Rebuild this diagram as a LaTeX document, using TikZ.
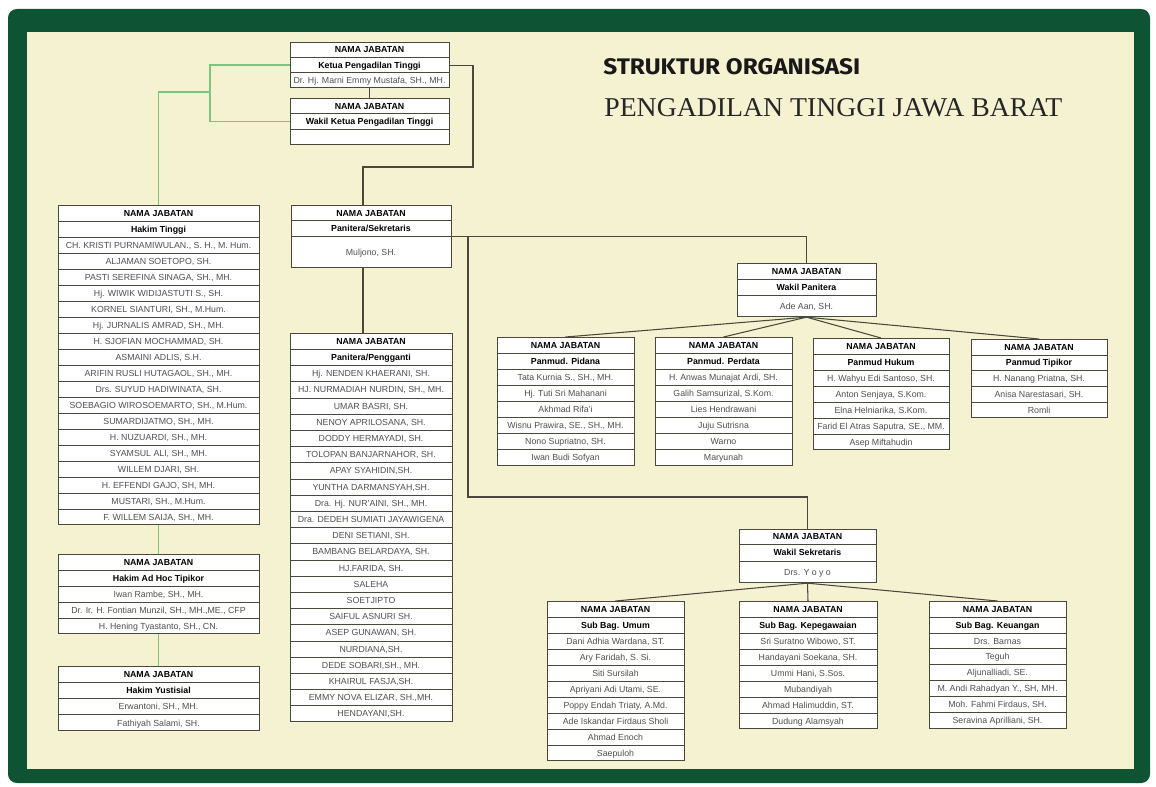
\documentclass[tikz,border=0pt]{standalone}
\usepackage{fontspec}
\setmainfont{Liberation Sans}
\newfontfamily\judulfont{Fira Sans}
\newfontfamily\serif{Liberation Serif}
\usepackage{graphicx}
\usepackage{colortbl}

\definecolor{hijau}{HTML}{0E5434}
\definecolor{krem}{HTML}{F5F2D2}
\definecolor{garishijau}{HTML}{7CC47F}
\definecolor{garis}{HTML}{4A473C}
\definecolor{nama}{HTML}{505050}

\newlength{\rh}
\renewcommand{\arraystretch}{0}
\setlength{\arrayrulewidth}{0.4pt}
\arrayrulecolor{garis}

\newcommand{\jtab}[2]{\begin{tabular}{@{}>{\centering\arraybackslash}p{#1}@{}}#2\end{tabular}}
\newcommand{\hd}[2][\rh]{\rule[\dimexpr1.8pt-#1/2\relax]{0pt}{#1}\textbf{#2}}
\newcommand{\nm}[2][\rh]{\rule[\dimexpr1.8pt-#1/2\relax]{0pt}{#1}\textcolor{nama}{#2}}

\begin{document}
\begin{tikzpicture}[x=0.02cm, y=-0.02cm,
    jbox/.style={draw=garis, fill=white, inner sep=0pt, line width=0.5pt, anchor=north, font=\fontsize{5}{6}\selectfont},
    hubung/.style={draw=garis, line width=0.6pt},
    hubunghijau/.style={draw=garishijau, line width=0.9pt}]

    \useasboundingbox (0,0) rectangle (1156,787);

    \fill[white] (0,0) rectangle (1156,787);

    \fill[hijau, rounded corners=5pt] (8,9) rectangle (1150,783);

    \fill[krem] (27,32) rectangle (1134,769);


    \node[anchor=south west, inner sep=0pt, text=black!90] (judul) at (603,75) {\resizebox{5.14cm}{0.32cm}{\judulfont\bfseries STRUKTUR ORGANISASI}};

    \node[anchor=south west, inner sep=0pt, text=black!85] (subjudul) at (604,117) {\resizebox{9.16cm}{0.36cm}{\serif PENGADILAN TINGGI JAWA BARAT}};


    \node[jbox] (ketua) at (369.5,42) {\setlength{\rh}{0.292cm}\jtab{3.18cm}{\hd{NAMA JABATAN}\\\hline \hd{Ketua Pengadilan Tinggi}\\\hline \nm{Dr. Hj. Marni Emmy Mustafa, SH., MH.}}};

    \node[jbox] (wakilketua) at (369.5,98) {\setlength{\rh}{0.300cm}\jtab{3.18cm}{\hd{NAMA JABATAN}\\\hline \hd{Wakil Ketua Pengadilan Tinggi}\\\hline \nm{}}};


    \node[jbox] (hakimtinggi) at (158.5,205) {\setlength{\rh}{0.306cm}\jtab{4.02cm}{\hd{NAMA JABATAN}\\\hline \hd{Hakim Tinggi}\\\hline
        \nm{CH. KRISTI PURNAMIWULAN., S. H., M. Hum.}\\\hline \nm{ALJAMAN SOETOPO, SH.}\\\hline
        \nm{PASTI SEREFINA SINAGA, SH., MH.}\\\hline \nm{Hj. WIWIK WIDIJASTUTI S., SH.}\\\hline
        \nm{KORNEL SIANTURI, SH., M.Hum.}\\\hline \nm{Hj. JURNALIS AMRAD, SH., MH.}\\\hline
        \nm{H. SJOFIAN MOCHAMMAD, SH.}\\\hline \nm{ASMAINI ADLIS, S.H.}\\\hline
        \nm{ARIFIN RUSLI HUTAGAOL, SH., MH.}\\\hline \nm{Drs. SUYUD HADIWINATA, SH.}\\\hline
        \nm{SOEBAGIO WIROSOEMARTO, SH., M.Hum.}\\\hline \nm{SUMARDIJATMO, SH., MH.}\\\hline
        \nm{H. NUZUARDI, SH., MH.}\\\hline \nm{SYAMSUL ALI, SH., MH.}\\\hline
        \nm{WILLEM DJARI, SH.}\\\hline \nm{H. EFFENDI GAJO, SH, MH.}\\\hline
        \nm{MUSTARI, SH., M.Hum.}\\\hline \nm{F. WILLEM SAIJA, SH., MH.}}};

    \node[jbox] (adhoc) at (158.5,554) {\setlength{\rh}{0.306cm}\jtab{4.02cm}{\hd{NAMA JABATAN}\\\hline \hd{Hakim Ad Hoc Tipikor}\\\hline
        \nm{Iwan Rambe, SH., MH.}\\\hline \nm{Dr. Ir. H. Fontian Munzil, SH., MH.,ME., CFP}\\\hline
        \nm{H. Hening Tyastanto, SH., CN.}}};

    \node[jbox] (yustisial) at (158.5,666) {\setlength{\rh}{0.311cm}\jtab{4.02cm}{\hd{NAMA JABATAN}\\\hline \hd{Hakim Yustisial}\\\hline
        \nm{Erwantoni, SH., MH.}\\\hline \nm{Fathiyah Salami, SH.}}};


    \node[jbox] (panitera) at (371,205) {\jtab{3.2cm}{\hd[0.300cm]{NAMA JABATAN}\\\hline \hd[0.306cm]{Panitera/Sekretaris}\\\hline
        \nm[0.612cm]{Muljono, SH.}}};

    \node[jbox] (pengganti) at (371,333) {\setlength{\rh}{0.310cm}\jtab{3.24cm}{\hd{NAMA JABATAN}\\\hline \hd{Panitera/Pengganti}\\\hline
        \nm{Hj. NENDEN KHAERANI, SH.}\\\hline \nm{HJ. NURMADIAH NURDIN, SH., MH.}\\\hline
        \nm{UMAR BASRI, SH.}\\\hline \nm{NENOY APRILOSANA, SH.}\\\hline
        \nm{DODDY HERMAYADI, SH.}\\\hline \nm{TOLOPAN BANJARNAHOR, SH.}\\\hline
        \nm{APAY SYAHIDIN,SH.}\\\hline \nm{YUNTHA DARMANSYAH,SH.}\\\hline
        \nm{Dra. Hj. NUR'AINI, SH., MH.}\\\hline \nm{Dra. DEDEH SUMIATI JAYAWIGENA}\\\hline
        \nm{DENI SETIANI, SH.}\\\hline \nm{BAMBANG BELARDAYA, SH.}\\\hline
        \nm{HJ.FARIDA, SH.}\\\hline \nm{SALEHA}\\\hline
        \nm{SOETJIPTO}\\\hline \nm{SAIFUL ASNURI SH.}\\\hline
        \nm{ASEP GUNAWAN, SH.}\\\hline \nm{NURDIANA,SH.}\\\hline
        \nm{DEDE SOBARI,SH., MH.}\\\hline \nm{KHAIRUL FASJA,SH.}\\\hline
        \nm{EMMY NOVA ELIZAR, SH.,MH.}\\\hline \nm{HENDAYANI,SH.}}};


    \node[jbox] (wakilpanitera) at (806.5,263) {\jtab{2.78cm}{\hd[0.306cm]{NAMA JABATAN}\\\hline \hd[0.306cm]{Wakil Panitera}\\\hline
        \nm[0.426cm]{Ade Aan, SH.}}};

    \node[jbox] (pidana) at (565.5,337) {\setlength{\rh}{0.308cm}\jtab{2.74cm}{\hd{NAMA JABATAN}\\\hline \hd{Panmud. Pidana}\\\hline
        \nm{Tata Kurnia S., SH., MH.}\\\hline \nm{Hj. Tuti Sri Mahanani}\\\hline
        \nm{Akhmad Rifa'i}\\\hline \nm{Wisnu Prawira, SE., SH., MH.}\\\hline
        \nm{Nono Supriatno, SH.}\\\hline \nm{Iwan Budi Sofyan}}};

    \node[jbox] (perdata) at (723.5,337) {\setlength{\rh}{0.308cm}\jtab{2.74cm}{\hd{NAMA JABATAN}\\\hline \hd{Panmud. Perdata}\\\hline
        \nm{H. Anwas Munajat Ardi, SH.}\\\hline \nm{Galih Samsurizal, S.Kom.}\\\hline
        \nm{Lies Hendrawani}\\\hline \nm{Juju Sutrisna}\\\hline
        \nm{Warno}\\\hline \nm{Maryunah}}};

    \node[jbox] (hukum) at (881,338) {\setlength{\rh}{0.306cm}\jtab{2.72cm}{\hd{NAMA JABATAN}\\\hline \hd{Panmud Hukum}\\\hline
        \nm{H. Wahyu Edi Santoso, SH.}\\\hline \nm{Anton Senjaya, S.Kom.}\\\hline
        \nm{Elna Helniarika, S.Kom.}\\\hline \nm{Farid El Atras Saputra, SE., MM.}\\\hline
        \nm{Asep Miftahudin}}};

    \node[jbox] (tipikor) at (1039,339) {\setlength{\rh}{0.302cm}\jtab{2.72cm}{\hd{NAMA JABATAN}\\\hline \hd{Panmud Tipikor}\\\hline
        \nm{H. Nanang Priatna, SH.}\\\hline \nm{Anisa Narestasari, SH.}\\\hline
        \nm{Romli}}};


    \node[jbox] (wakilsekretaris) at (807.5,529) {\jtab{2.74cm}{\hd[0.286cm]{NAMA JABATAN}\\\hline \hd[0.326cm]{Wakil Sekretaris}\\\hline
        \nm[0.426cm]{Drs. Y o y o}}};

    \node[jbox] (umum) at (615.5,601) {\setlength{\rh}{0.306cm}\jtab{2.74cm}{\hd{NAMA JABATAN}\\\hline \hd{Sub Bag. Umum}\\\hline
        \nm{Dani Adhia Wardana, ST.}\\\hline \nm{Ary Faridah, S. Si.}\\\hline
        \nm{Siti Sursilah}\\\hline \nm{Apriyani Adi Utami, SE.}\\\hline
        \nm{Poppy Endah Triaty, A.Md.}\\\hline \nm{Ade Iskandar Firdaus Sholi}\\\hline
        \nm{Ahmad Enoch}\\\hline \nm{Saepuloh}}};

    \node[jbox] (kepegawaian) at (808,601) {\setlength{\rh}{0.306cm}\jtab{2.76cm}{\hd{NAMA JABATAN}\\\hline \hd{Sub Bag. Kepegawaian}\\\hline
        \nm{Sri Suratno Wibowo, ST.}\\\hline \nm{Handayani Soekana, SH.}\\\hline
        \nm{Ummi Hani, S.Sos.}\\\hline \nm{Mubandiyah}\\\hline
        \nm{Ahmad Halimuddin, ST.}\\\hline \nm{Dudung Alamsyah}}};

    \node[jbox] (keuangan) at (997.5,601) {\setlength{\rh}{0.304cm}\jtab{2.74cm}{\hd{NAMA JABATAN}\\\hline \hd{Sub Bag. Keuangan}\\\hline
        \nm{Drs. Barnas}\\\hline \nm{Teguh}\\\hline
        \nm{Aljunalliadi, SE.}\\\hline \nm{M. Andi Rahadyan Y., SH, MH.}\\\hline
        \nm{Moh. Fahmi Firdaus, SH.}\\\hline \nm{Seravina Aprilliani, SH.}}};


    \coordinate (gx) at (210,92);

    \draw[hubunghijau] (ketua.west) -| (gx) |- (wakilketua.west);

    \draw[hubunghijau] (gx) -| (hakimtinggi.north);

    \draw[hubunghijau] (hakimtinggi) -- (adhoc);

    \draw[hubunghijau] (adhoc) -- (yustisial);


    \draw[hubung] (ketua) -- (wakilketua);

    \coordinate (pk) at (473,167);

    \coordinate (pp) at (363,167);

    \draw[hubung] (ketua.east) -| (pk) -- (pp) -- (pp |- panitera.north);

    \draw[hubung] (pp |- panitera.south) -- (pp |- pengganti.north);

    \draw[hubung] (panitera.east) -| (wakilpanitera.north);

    \coordinate (ps) at (468,497);

    \draw[hubung] (panitera.east -| ps) -- (ps) -| (wakilsekretaris.north);


    \draw[hubung] (wakilpanitera.south) -- (pidana.north);

    \draw[hubung] (wakilpanitera.south) -- (perdata.north);

    \draw[hubung] (wakilpanitera.south) -- (hukum.north);

    \draw[hubung] (wakilpanitera.south) -- (tipikor.north);


    \draw[hubung] (wakilsekretaris.south) -- (umum.north);

    \draw[hubung] (wakilsekretaris.south) -- (kepegawaian.north);

    \draw[hubung] (wakilsekretaris.south) -- (keuangan.north);

  \end{tikzpicture}
\end{document}
